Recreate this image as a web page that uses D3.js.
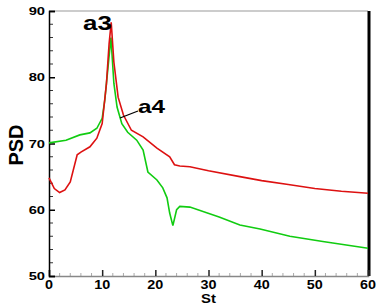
<!DOCTYPE html>
<html>
<head>
<meta charset="utf-8">
<script src="https://cdn.jsdelivr.net/npm/d3@7"></script>
<style>
  body { margin: 0; background: #fff; }
  text { font-family: "Liberation Sans", Arial, sans-serif; font-weight: bold; }
</style>
</head>
<body>
<div id="chart"></div>
<script>

// St values and PSD
var redSt  = [0, 1, 2, 3, 4, 5.3, 6, 7.7, 9, 10, 10.8, 11.3, 11.7, 12.2, 13, 14, 15.5, 17.7, 20.3, 22.7, 23.6, 24.6, 26.5, 30, 35.9, 40, 45, 50, 55, 60];
var redPsd = [64.8, 63.2, 62.6, 63.0, 64.2, 68.3, 68.7, 69.5, 70.8, 73, 79, 85, 88.3, 82.3, 77, 74.3, 72, 71, 69.3, 68, 66.8, 66.6, 66.5, 65.9, 65, 64.4, 63.8, 63.2, 62.8, 62.5];

var greenSt  = [0, 3.2, 5.8, 7.7, 9, 10, 10.5, 11.1, 11.65, 12.2, 12.8, 13.7, 14.8, 16.5, 17.7, 18.6, 20.3, 21.4, 22.2, 22.7, 23.3, 24, 24.6, 26.5, 32, 35.9, 39.7, 45.3, 51.5, 60];
var greenPsd = [70.1, 70.5, 71.3, 71.6, 72.3, 73.8, 76.6, 81.5, 86, 79.1, 75.5, 73, 71.7, 70.5, 69, 65.7, 64.5, 63.3, 61.8, 59.5, 57.6, 60, 60.5, 60.4, 58.9, 57.7, 57.1, 56, 55.2, 54.2];

var xTicks = [0, 10, 20, 30, 40, 50, 60];
var yTicks = [50, 60, 70, 80, 90];

var width = 380, height = 308;
var plotLeft = 49, plotRight = 368, plotTop = 11, plotBottom = 276;

var svg = d3.select("#chart").append("svg")
    .attr("width", width)
    .attr("height", height);

var x = d3.scaleLinear().domain([0, 60]).range([plotLeft, plotRight]);
var y = d3.scaleLinear().domain([50, 90]).range([plotBottom, plotTop]);

// text in the original is a bit wider than it is tall, so stretch it
function label(px, py, sx, size, anchor, str) {
    return svg.append("text")
        .attr("transform", "translate(" + px + "," + py + ") scale(" + sx + ",1)")
        .attr("text-anchor", anchor)
        .attr("font-size", size)
        .text(str);
}

// frame: top light gray, right thick black
svg.append("line")
    .attr("x1", plotLeft).attr("x2", plotRight)
    .attr("y1", plotTop).attr("y2", plotTop)
    .attr("stroke", "#bbb").attr("stroke-width", 1.5);
svg.append("line")
    .attr("x1", plotRight + 1).attr("x2", plotRight + 1)
    .attr("y1", plotTop).attr("y2", plotBottom)
    .attr("stroke", "#000").attr("stroke-width", 3);

// minor ticks every 2
var minorX = d3.range(0, 61, 2).filter(function(d) { return d % 10 != 0; });
var minorY = d3.range(50, 91, 2).filter(function(d) { return d % 10 != 0; });

svg.selectAll("line.minx").data(minorX).enter().append("line")
    .attr("x1", function(d) { return x(d); })
    .attr("x2", function(d) { return x(d); })
    .attr("y1", plotBottom).attr("y2", plotBottom - 3)
    .attr("stroke", "#aaa").attr("stroke-width", 1);
svg.selectAll("line.miny").data(minorY).enter().append("line")
    .attr("x1", plotLeft).attr("x2", plotLeft + 4)
    .attr("y1", function(d) { return y(d); })
    .attr("y2", function(d) { return y(d); })
    .attr("stroke", "#333").attr("stroke-width", 1);

// x axis
var xAxis = svg.append("g")
    .attr("transform", "translate(0," + plotBottom + ")")
    .call(d3.axisTop(x).tickValues(xTicks).tickSize(6).tickFormat(""));
xAxis.select(".domain").attr("stroke", "#888").attr("stroke-width", 1.5);
xAxis.selectAll(".tick line").attr("stroke", "#222").attr("stroke-width", 1.5);

xTicks.forEach(function(d) {
    label(x(d), plotBottom + 13, 1.15, 12.5, "middle", d);
});

// y axis
var yAxis = svg.append("g")
    .attr("transform", "translate(" + plotLeft + ",0)")
    .call(d3.axisRight(y).tickValues(yTicks).tickSize(6).tickFormat(""));
yAxis.select(".domain").attr("stroke", "#000").attr("stroke-width", 1.5);
yAxis.selectAll(".tick line").attr("stroke", "#000").attr("stroke-width", 1.5);

yTicks.forEach(function(d) {
    label(plotLeft - 4, y(d) + 4, 1.4, 10.5, "end", d);
});

// axis titles
label(x(30), 303, 1.1, 13.5, "middle", "St");

svg.append("text")
    .attr("transform", "translate(22.5,145) rotate(-90)")
    .attr("text-anchor", "middle")
    .attr("font-size", 20)
    .text("PSD");

// curves
var line = d3.line()
    .x(function(d) { return x(d[0]); })
    .y(function(d) { return y(d[1]); });

svg.append("path")
    .datum(d3.zip(greenSt, greenPsd))
    .attr("d", line)
    .attr("fill", "none")
    .attr("stroke", "#11cc11")
    .attr("stroke-width", 1.6);

svg.append("path")
    .datum(d3.zip(redSt, redPsd))
    .attr("d", line)
    .attr("fill", "none")
    .attr("stroke", "#dd1111")
    .attr("stroke-width", 1.6);

// annotations
label(97.5, 30, 1.33, 19.5, "middle", "a3");
label(151.5, 113, 1.35, 18, "middle", "a4");

svg.append("line")
    .attr("x1", 138).attr("y1", 111)
    .attr("x2", 120).attr("y2", 118)
    .attr("stroke", "#000").attr("stroke-width", 1.3);

</script>
</body>
</html>
